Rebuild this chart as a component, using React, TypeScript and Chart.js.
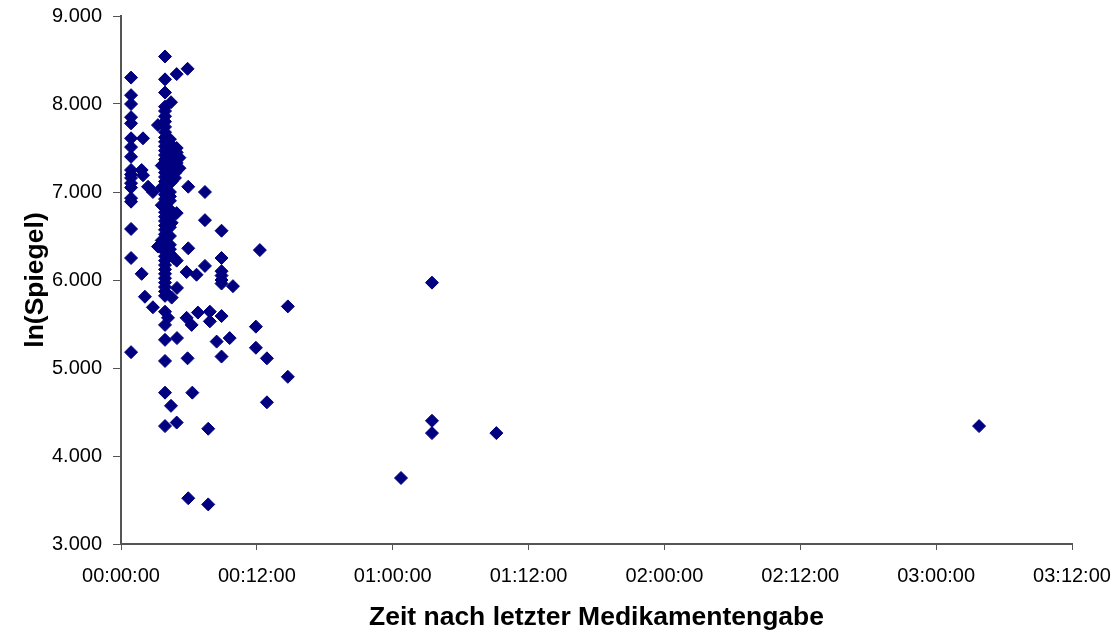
import React, { useEffect, useRef } from "react";
import { Chart, registerables } from "chart.js";

Chart.register(...registerables);

// Axis labels along the time axis (one label per tick step)
const zeitTickLabels = [
  "00:00:00",
  "00:12:00",
  "01:00:00",
  "01:12:00",
  "02:00:00",
  "02:12:00",
  "03:00:00",
  "03:12:00",
];

// Time after last dose, in tick steps of the time axis
const zeit = [
  // first column
  0.074, 0.074, 0.074, 0.074, 0.074, 0.074, 0.074, 0.074, 0.074, 0.074,
  0.074, 0.074, 0.074, 0.074, 0.074, 0.074, 0.074, 0.074,
  // second group
  0.152, 0.162, 0.162, 0.199, 0.235, 0.152, 0.176, 0.235, 0.272, 0.272,
  // main column
  0.324, 0.324, 0.324, 0.324, 0.324, 0.324, 0.324, 0.324, 0.324, 0.324,
  0.324, 0.324, 0.324, 0.324, 0.324, 0.324, 0.324, 0.324, 0.324, 0.324,
  0.324, 0.324, 0.324, 0.324, 0.324, 0.324, 0.324, 0.324, 0.324, 0.324,
  0.324, 0.324, 0.324, 0.324, 0.324, 0.324, 0.324, 0.324, 0.324, 0.324,
  0.324, 0.324, 0.324, 0.324, 0.324, 0.324, 0.324, 0.324, 0.324, 0.324,
  0.324, 0.324,
  // second row of the main column
  0.36, 0.36, 0.36, 0.36, 0.36, 0.36, 0.36, 0.36, 0.36, 0.36,
  0.36, 0.36, 0.36, 0.36, 0.36, 0.36, 0.3, 0.3, 0.3, 0.3,
  // right edge of the main column
  0.368, 0.41, 0.41, 0.41, 0.41, 0.41, 0.43, 0.43, 0.397, 0.373,
  0.41, 0.373, 0.36, 0.39, 0.41, 0.412, 0.373, 0.346, 0.412, 0.368,
  0.41, 0.49, 0.4, 0.4, 0.4,
  // scattered points
  0.483, 0.495, 0.495, 0.483, 0.49, 0.495, 0.52, 0.525, 0.556, 0.566,
  0.618, 0.618, 0.618, 0.642, 0.642, 0.654, 0.654, 0.704, 0.74, 0.74,
  0.74, 0.74, 0.74, 0.74, 0.74, 0.74, 0.8, 0.824, 0.993, 0.993,
  1.022, 1.074, 1.074, 1.228, 1.228, 2.061, 2.289, 2.289, 2.289, 2.763,
  6.316,
];

// Natural logarithm of the measured level
const lnSpiegel = [
  // first column
  8.3, 8.1, 8.0, 7.85, 7.78, 7.61, 7.51, 7.4, 7.25, 7.2,
  7.16, 7.1, 7.05, 6.89, 6.93, 6.58, 6.25, 5.18,
  // second group
  7.25, 7.61, 7.19, 7.06, 7.0, 6.07, 5.81, 5.69, 7.76, 6.38,
  // main column
  8.54, 8.28, 8.13, 7.97, 7.92, 7.86, 7.8, 7.74, 7.68, 7.62,
  7.57, 7.52, 7.47, 7.42, 7.37, 7.32, 7.27, 7.22, 7.17, 7.12,
  7.07, 7.02, 6.97, 6.92, 6.87, 6.82, 6.77, 6.72, 6.67, 6.62,
  6.57, 6.52, 6.47, 6.42, 6.37, 6.32, 6.27, 6.22, 6.17, 6.12,
  6.07, 6.02, 5.97, 5.92, 5.87, 5.82, 5.64, 5.49, 5.32, 5.08,
  4.72, 4.34,
  // second row of the main column
  7.6, 7.55, 7.45, 7.35, 7.25, 7.2, 7.1, 7.0, 6.95, 6.9,
  6.8, 6.7, 6.6, 6.5, 6.4, 6.35, 7.3, 7.05, 6.85, 6.45,
  // right edge of the main column
  8.02, 8.34, 7.5, 7.45, 7.33, 7.29, 7.39, 7.27, 7.16, 6.65,
  6.76, 7.12, 6.3, 6.25, 6.22, 5.91, 5.8, 5.57, 5.34, 4.57,
  4.38, 8.4, 7.42, 7.36, 7.22,
  // scattered points
  6.09, 7.06, 6.36, 5.57, 5.11, 3.52, 5.49, 4.72, 6.06, 5.63,
  7.0, 6.68, 6.16, 4.31, 3.45, 5.64, 5.53, 5.3, 6.56, 6.25,
  6.1, 6.05, 6.0, 5.96, 5.59, 5.13, 5.34, 5.93, 5.47, 5.23,
  6.34, 5.11, 4.61, 5.7, 4.9, 3.75, 5.97, 4.4, 4.26, 4.26,
  4.34,
];

const FONT = '"Liberation Sans", Arial, Helvetica, sans-serif';
const MARKER = "#000080";
const AXIS = "#555555";

export default function App() {
  const canvasRef = useRef<HTMLCanvasElement | null>(null);

  useEffect(() => {
    const canvas = canvasRef.current;
    if (!canvas) return;

    const points = zeit.map((x, i) => ({ x, y: lnSpiegel[i] }));

    const chart = new Chart(canvas, {
      type: "scatter",
      data: {
        datasets: [
          {
            label: "ln(Spiegel)",
            data: points,
            pointStyle: "rectRot",
            pointRadius: 6.5,
            pointBackgroundColor: MARKER,
            pointBorderColor: MARKER,
            pointBorderWidth: 1,
          },
        ],
      },
      options: {
        responsive: false,
        animation: false,
        layout: { padding: { top: 16, right: 47, left: 0, bottom: 0 } },
        plugins: {
          legend: { display: false },
          tooltip: { enabled: false },
        },
        scales: {
          x: {
            type: "linear",
            min: 0,
            max: zeitTickLabels.length - 1,
            afterFit: (scale: any) => {
              // fixed band below the plot; label overhang is covered by the layout padding
              scale.height = 90;
              scale.paddingLeft = 0;
              scale.paddingRight = 0;
            },
            afterBuildTicks: (scale: any) => {
              scale.ticks = zeitTickLabels.map((_, i) => ({ value: i }));
            },
            ticks: {
              color: "#000",
              font: { family: FONT, size: 20 },
              padding: 14,
              maxRotation: 0,
              autoSkip: false,
              callback: (v: any) => zeitTickLabels[Math.round(Number(v))] ?? "",
            },
            grid: {
              display: true,
              drawOnChartArea: false,
              drawTicks: true,
              tickLength: 6,
              color: AXIS,
              lineWidth: 1,
            },
            border: { display: true, color: AXIS, width: 2 },
            title: {
              display: true,
              text: "Zeit nach letzter Medikamentengabe",
              color: "#000",
              font: { family: FONT, size: 26.5, weight: "bold" },
              padding: { top: 0, bottom: 0 },
            },
          },
          y: {
            type: "linear",
            min: 3,
            max: 9,
            afterFit: (scale: any) => {
              scale.width = 121;
              scale.paddingTop = 0;
              scale.paddingBottom = 0;
            },
            ticks: {
              stepSize: 1,
              color: "#000",
              font: { family: FONT, size: 20 },
              padding: 11,
              callback: (v: any) => Number(v).toFixed(3),
            },
            grid: {
              display: true,
              drawOnChartArea: false,
              drawTicks: true,
              tickLength: 8,
              color: AXIS,
              lineWidth: 1,
            },
            border: { display: true, color: AXIS, width: 2 },
            title: {
              display: true,
              text: "ln(Spiegel)",
              color: "#000",
              font: { family: FONT, size: 26.5, weight: "bold" },
              padding: { top: 20, bottom: 0 },
            },
          },
        },
      },
    });

    return () => {
      chart.destroy();
    };
  }, []);

  return (
    <div
      style={{
        position: "absolute",
        left: 0,
        top: 0,
        width: 1119,
        height: 634,
        background: "#fff",
      }}
    >
      <canvas ref={canvasRef} width={1119} height={634} />
    </div>
  );
}
